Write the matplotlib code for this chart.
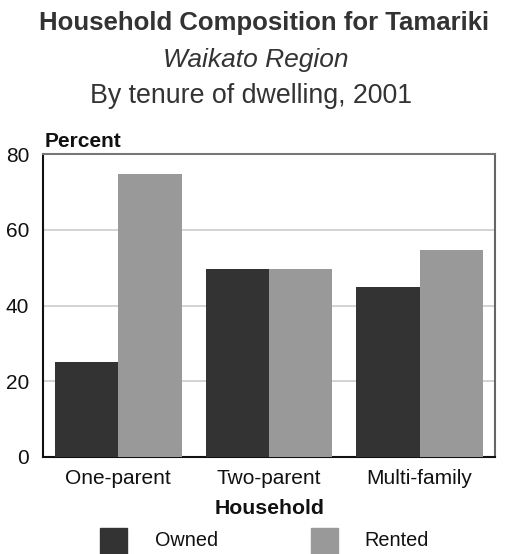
import matplotlib
matplotlib.use("Agg")
import matplotlib.pyplot as plt
import numpy as np
from matplotlib.patches import Rectangle

plt.rcParams['font.family'] = ['Liberation Sans', 'DejaVu Sans']

categories = ["One-parent", "Two-parent", "Multi-family"]
owned = [25, 49.6, 45]
rented = [74.7, 49.6, 54.6]
series_names = ["Owned", "Rented"]
yticks = [0, 20, 40, 60, 80]

W, H = 505, 554
fig = plt.figure(figsize=(W / 100, H / 100), dpi=100)
ax = fig.add_axes([43 / W, 1 - 457 / H, (495 - 43) / W, (457 - 154) / H])

x = np.arange(len(categories))
bw = 0.42
c_owned = "#333333"
c_rented = "#999999"
ax.bar(x - bw / 2, owned, bw, color=c_owned, zorder=3)
ax.bar(x + bw / 2, rented, bw, color=c_rented, zorder=3)

ax.set_xlim(-0.5, len(categories) - 0.5)
ax.set_ylim(0, 80)
ax.set_yticks(yticks)
ax.set_yticklabels([str(t) for t in yticks], fontsize=15, color="#111111")
ax.set_xticks(x)
ax.set_xticklabels(categories, fontsize=15, color="#111111")
ax.tick_params(axis="both", length=0)
ax.tick_params(axis="y", pad=10)
ax.tick_params(axis="x", pad=9)
ax.grid(axis="y", color="#cccccc", linewidth=1.2, zorder=0)

ax.spines["left"].set_color("#111111")
ax.spines["bottom"].set_color("#111111")
ax.spines["left"].set_linewidth(1.5)
ax.spines["bottom"].set_linewidth(1.5)
ax.spines["top"].set_color("#777777")
ax.spines["right"].set_color("#666666")
ax.spines["top"].set_linewidth(1.5)
ax.spines["right"].set_linewidth(1.5)

fig.text(264 / W, 1 - 23 / H, "Household Composition for Tamariki", ha="center", va="center",
         fontsize=18.5, fontweight="bold", color="#333333")
fig.text(256 / W, 1 - 60 / H, "Waikato Region", ha="center", va="center",
         fontsize=19, fontstyle="italic", color="#333333")
fig.text(251 / W, 1 - 96 / H, "By tenure of dwelling, 2001", ha="center", va="center",
         fontsize=19.3, color="#333333")
fig.text(45 / W, 1 - 141 / H, "Percent", ha="left", va="center",
         fontsize=15, fontweight="bold", color="#111111")
fig.text(270 / W, 1 - 508 / H, "Household", ha="center", va="center",
         fontsize=15.3, fontweight="bold", color="#111111")

# legend
leg_items = [(100, series_names[0], c_owned, 155), (311, series_names[1], c_rented, 364)]
for lx, name, col, tx in leg_items:
    fig.patches.append(Rectangle((lx / W, 1 - 554 / H), 27 / W, 26 / H,
                                 transform=fig.transFigure, color=col))
    fig.text(tx / W, 1 - 540 / H, name, ha="left", va="center", fontsize=14.3, color="#111111")

fig.savefig("out.png", dpi=100)
